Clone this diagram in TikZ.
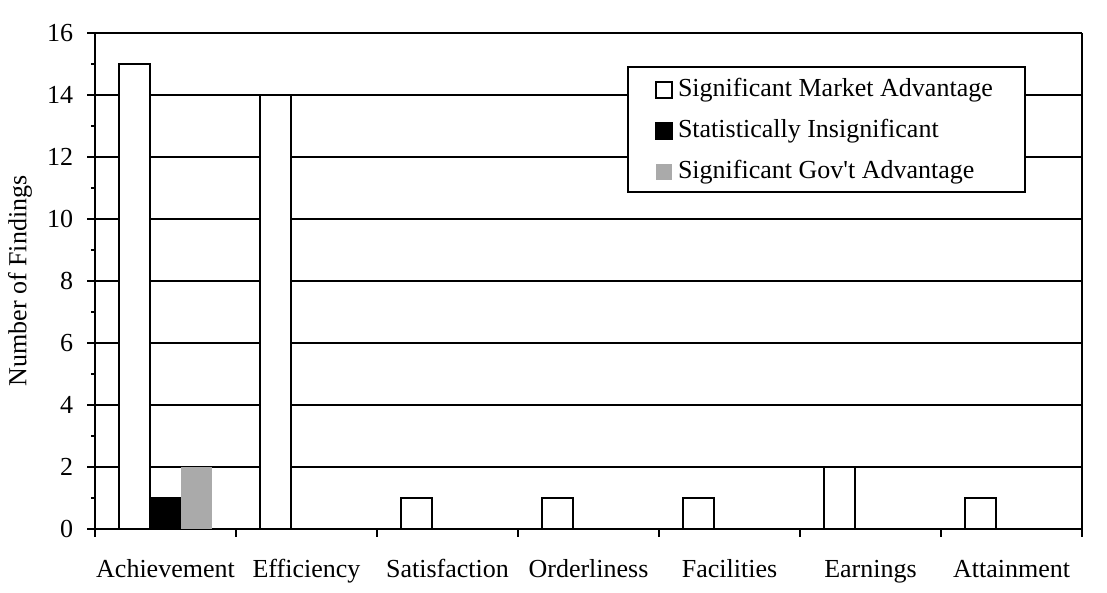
\documentclass[tikz,border=0pt]{standalone}
\usepackage{fontspec}
\setmainfont{Liberation Serif}
\usepackage{tikz}
\usetikzlibrary{positioning}
\definecolor{govgray}{RGB}{170,170,170}

\begin{document}
\begin{tikzpicture}[x=0.5pt, y=-0.5pt, line width=1pt,
	bar/.style={draw=black, fill=white},
	lbl/.style={font=\fontsize{13}{15}\selectfont, inner sep=1pt},
	key/.style={minimum size=8pt, inner sep=0pt}]
	\useasboundingbox (0,0) rectangle (1107,593);
	
	% grid and axes
	\foreach \v in {2,4,...,16}
		\draw (87,{529-31*\v}) -- (1082,{529-31*\v});
	\foreach \v in {1,3,...,15}
		\draw (91,{529-31*\v}) -- (95,{529-31*\v});
	\draw (87,529) -- (1082,529);
	\draw (95,33) -- (95,529);
	\draw (1082,33) -- (1082,529);
	\foreach \i in {0,...,7}
		\draw ({95+141*\i},529) -- ({95+141*\i},537);
	\foreach \v in {0,2,...,16}
		\node[lbl, anchor=east] (y\v) at (76,{529-31*\v}) {\v};
	
	% bars
	\foreach \v [count=\i from 0] in {15,14,1,1,1,2,1}
		\draw[bar] ({119+141*\i},529) rectangle ({150+141*\i},{529-31*\v});
	\draw[fill=black] (150,529) rectangle (181,498);
	\fill[govgray] (181,529) rectangle (212,467);
	
	% labels
	\foreach \c [count=\i from 0] in {Achievement,Efficiency,Satisfaction,Orderliness,Facilities,Earnings,Attainment}
		\node[lbl, anchor=base] (c\i) at ({165.5+141*\i},577) {\c};
	\node[lbl, rotate=90] (ylab) at (20,281) {Number of Findings};
	
	% legend
	\draw[fill=white] (628,67) rectangle (1025,192);
	\node[key, draw, fill=white] (k1) at (664,90) {};
	\node[key, draw, fill=black] (k2) at (664,131) {};
	\node[key, fill=govgray] (k3) at (664,172) {};
	\node[lbl, right=1pt of k1] (t1) {Significant Market Advantage};
	\node[lbl, right=1pt of k2] (t2) {Statistically Insignificant};
	\node[lbl, right=1pt of k3] (t3) {Significant Gov\textquotesingle t Advantage};
\end{tikzpicture}
\end{document}
